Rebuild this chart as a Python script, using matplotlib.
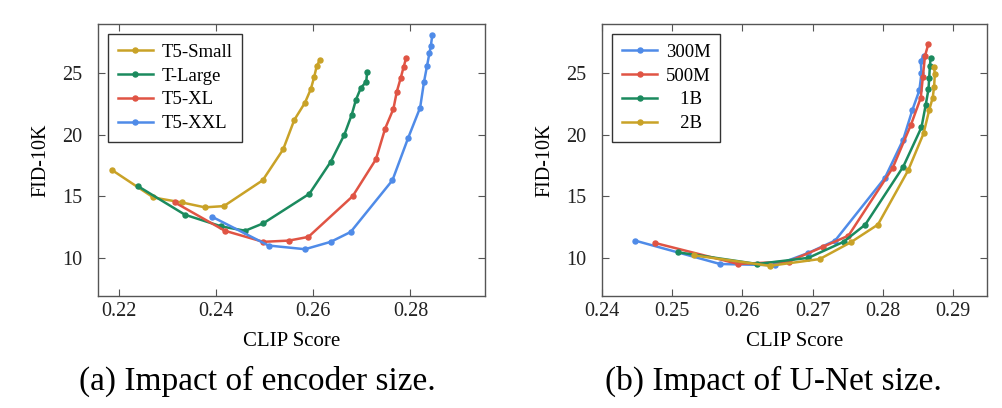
import matplotlib
matplotlib.use('Agg')
import matplotlib.pyplot as plt

plt.rcParams['font.family'] = ['Liberation Serif', 'DejaVu Serif']

# colours
gold = '#c9a227'
green = '#1b8a5e'
red = '#e05444'
blue = '#4f8be8'

# (a) encoder size
small_x = [0.2185, 0.2271, 0.2329, 0.2377, 0.2416, 0.2496, 0.2538, 0.2561, 0.2583, 0.2595, 0.2602, 0.2607, 0.2614]
small_y = [17.15, 14.9, 14.5, 14.1, 14.2, 16.3, 18.8, 21.2, 22.6, 23.7, 24.7, 25.55, 26.1]
large_x = [0.2240, 0.2336, 0.2411, 0.2460, 0.2497, 0.2592, 0.2636, 0.2664, 0.2679, 0.2688, 0.2698, 0.2709, 0.2711]
large_y = [15.8, 13.5, 12.55, 12.2, 12.8, 15.2, 17.8, 20.0, 21.6, 22.85, 23.8, 24.3, 25.1]
xl_x = [0.2315, 0.2418, 0.2497, 0.2550, 0.2590, 0.2681, 0.2729, 0.2748, 0.2765, 0.2772, 0.2780, 0.2786, 0.2791]
xl_y = [14.5, 12.2, 11.3, 11.4, 11.7, 15.0, 18.0, 20.5, 22.1, 23.5, 24.6, 25.5, 26.2]
xxl_x = [0.2391, 0.2508, 0.2583, 0.2636, 0.2677, 0.2763, 0.2795, 0.2820, 0.2828, 0.2834, 0.2839, 0.2842, 0.2845]
xxl_y = [13.35, 11.0, 10.7, 11.3, 12.1, 16.3, 19.7, 22.2, 24.3, 25.55, 26.6, 27.2, 28.1]

# (b) U-Net size
m300_x = [0.2447, 0.2568, 0.2647, 0.2694, 0.2732, 0.2803, 0.2829, 0.2842, 0.2852, 0.2855, 0.2854, 0.2858]
m300_y = [11.4, 9.5, 9.4, 10.4, 11.4, 16.5, 19.6, 22.0, 23.6, 25.0, 26.0, 26.4]
m500_x = [0.2476, 0.2594, 0.2666, 0.2715, 0.2751, 0.2814, 0.2840, 0.2854, 0.2857, 0.2860, 0.2865]
m500_y = [11.2, 9.5, 9.7, 10.9, 11.8, 17.3, 20.8, 23.0, 24.7, 26.4, 27.4]
b1_x = [0.2508, 0.2621, 0.2694, 0.2744, 0.2775, 0.2829, 0.2855, 0.2861, 0.2865, 0.2866, 0.2867, 0.2868]
b1_y = [10.45, 9.5, 10.0, 11.3, 12.7, 17.4, 20.6, 22.4, 23.7, 24.6, 25.6, 26.2]
b2_x = [0.2531, 0.2639, 0.2710, 0.2754, 0.2793, 0.2836, 0.2858, 0.2866, 0.2871, 0.2873, 0.2874, 0.2873]
b2_y = [10.2, 9.35, 9.9, 11.25, 12.7, 17.1, 20.1, 22.0, 23.0, 23.9, 24.9, 25.5]

a_ticks = [0.22, 0.24, 0.26, 0.28]
b_ticks = [0.24, 0.25, 0.26, 0.27, 0.28, 0.29]
y_ticks = [10, 15, 20, 25]

fig = plt.figure(figsize=(10.02, 4.08), dpi=100)
ax1 = fig.add_axes([0.0978, 0.2745, 0.386, 0.667])
ax2 = fig.add_axes([0.6008, 0.2745, 0.384, 0.667])

style = dict(lw=1.8, marker='o', ms=3.6)

ax1.plot(small_x, small_y, color=gold, label='T5-Small', **style)
ax1.plot(large_x, large_y, color=green, label='T-Large', **style)
ax1.plot(xl_x, xl_y, color=red, label='T5-XL', **style)
ax1.plot(xxl_x, xxl_y, color=blue, label='T5-XXL', **style)
ax1.set_xlim(0.2157, 0.2953)
ax1.set_xticks(a_ticks)
ax1.set_xticklabels(['%.2f' % t for t in a_ticks])

ax2.plot(m300_x, m300_y, color=blue, label='300M', **style)
ax2.plot(m500_x, m500_y, color=red, label='500M', **style)
ax2.plot(b1_x, b1_y, color=green, label='\u2002 1B', **style)
ax2.plot(b2_x, b2_y, color=gold, label='\u2002 2B', **style)
ax2.set_xlim(0.24, 0.2948)
ax2.set_xticks(b_ticks)
ax2.set_xticklabels(['%.2f' % t for t in b_ticks])

for ax in (ax1, ax2):
    ax.set_ylim(6.9, 29.0)
    ax.set_yticks(y_ticks)
    ax.tick_params(direction='in', top=True, right=True, labelsize=14.5, length=5, width=0.8,
                   colors='#555555', labelcolor='#222222')
    ax.tick_params(axis='y', pad=11)
    ax.tick_params(axis='x', pad=4)
    for s in ax.spines.values():
        s.set_color('#555555')
        s.set_linewidth(1.0)
    ax.set_xlabel('CLIP Score', fontsize=15, labelpad=8)
    ax.set_ylabel('FID-10K', fontsize=14.5, labelpad=9)
    leg = ax.legend(loc='upper left', fontsize=13.5, fancybox=False, edgecolor='#333333',
                    framealpha=1, handlelength=1.9, handletextpad=0.45, borderpad=0.5,
                    labelspacing=0.36, borderaxespad=0.55)
    leg.get_frame().set_linewidth(1.0)

fig.text(0.257, 0.065, '(a) Impact of encoder size.', ha='center', va='center', fontsize=24)
fig.text(0.772, 0.065, '(b) Impact of U-Net size.', ha='center', va='center', fontsize=24)

fig.savefig('out.png', dpi=100)
